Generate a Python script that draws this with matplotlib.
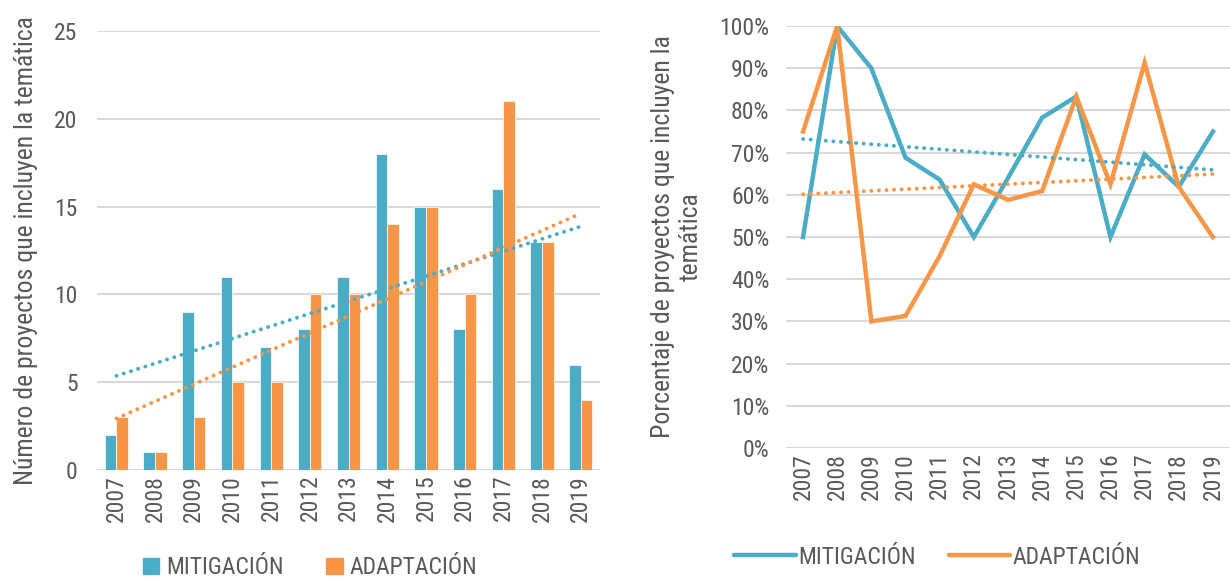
import numpy as np
import matplotlib
matplotlib.use("Agg")
import matplotlib.pyplot as plt
from matplotlib.lines import Line2D
from matplotlib.patches import Patch

plt.rcParams['font.family'] = ['Roboto Condensed', 'DejaVu Sans']

years = ["2007", "2008", "2009", "2010", "2011", "2012", "2013",
         "2014", "2015", "2016", "2017", "2018", "2019"]

# left: number of projects
mitig_n = [2, 1, 9, 11, 7, 8, 11, 18, 15, 8, 16, 13, 6]
adapt_n = [3, 1, 3, 5, 5, 10, 10, 14, 15, 10, 21, 13, 4]

# right: share of projects (%)
mitig_pct = [50, 100, 90, 68.8, 63.6, 50, 64, 78.3, 83.3, 50, 69.6, 61.9, 75]
adapt_pct = [75, 100, 30, 31.3, 45.5, 62.5, 58.8, 60.9, 83.3, 62.5, 91.3, 61.9, 50]

BLUE = "#4BACC6"
ORANGE = "#F79646"
TXT = "#595959"
GRID = "#D9D9D9"
FS = 17


def _style(ax):
    for s in ax.spines.values():
        s.set_visible(False)
    ax.tick_params(axis="both", length=0, colors=TXT, labelsize=FS)
    ax.yaxis.grid(True, color=GRID, linewidth=1.5)
    ax.set_axisbelow(True)
    for lab in ax.get_xticklabels():
        lab.set_rotation(90)


def _trend(ax, x, y, color):
    k, b = np.polyfit(x, y, 1)
    ax.plot(x, k * x + b, color=color, linewidth=2.8,
            linestyle=(0, (0.05, 1.9)), dash_capstyle="round", zorder=4)


fig = plt.figure(figsize=(12.3, 5.78), dpi=100)
x = np.arange(len(years))

# Left panel
ax1 = fig.add_axes([0.0789, 0.1869, 0.409, 0.7595])
w = 0.3
ax1.bar(x - w / 2, mitig_n, w, color=BLUE, edgecolor="white", linewidth=0.5, zorder=3)
ax1.bar(x + w / 2, adapt_n, w, color=ORANGE, edgecolor="white", linewidth=0.5, zorder=3)
_trend(ax1, x, np.array(mitig_n, float), BLUE)
_trend(ax1, x, np.array(adapt_n, float), ORANGE)
ax1.set_xlim(-0.5, len(years) - 0.5)
ax1.set_ylim(0, 25)
ax1.set_yticks([0, 5, 10, 15, 20, 25])
ax1.set_xticks(x)
ax1.set_xticklabels(years)
_style(ax1)
ax1.tick_params(axis="y", pad=14)
ax1.set_ylabel("Número de proyectos que incluyen la temática", color=TXT,
               fontsize=18.5, labelpad=12)
ax1.legend(handles=[Patch(color=BLUE, label="MITIGACIÓN"),
                    Patch(color=ORANGE, label="ADAPTACIÓN")],
           loc="center", bbox_to_anchor=(0.252, 0.018), bbox_transform=fig.transFigure,
           ncol=2, frameon=False, fontsize=FS, labelcolor=TXT,
           handlelength=0.7, handleheight=0.7, handletextpad=0.3, columnspacing=1.8)

# Right panel
ax2 = fig.add_axes([0.639, 0.2249, 0.361, 0.730])
ax2.plot(x, mitig_pct, color=BLUE, linewidth=3.2, solid_joinstyle="miter", zorder=3)
ax2.plot(x, adapt_pct, color=ORANGE, linewidth=3.2, solid_joinstyle="miter", zorder=3)
_trend(ax2, x, np.array(mitig_pct, float), BLUE)
_trend(ax2, x, np.array(adapt_pct, float), ORANGE)
ax2.set_xlim(-0.5, len(years) - 0.5)
ax2.set_ylim(0, 100)
ax2.set_yticks(range(0, 101, 10))
ax2.set_yticklabels([f"{v}%" for v in range(0, 101, 10)])
ax2.set_xticks(x)
ax2.set_xticklabels(years)
_style(ax2)
ax2.tick_params(axis="y", pad=12)
ax2.set_ylabel("Porcentaje de proyectos que incluyen la\ntemática", color=TXT,
               fontsize=18.5, labelpad=12)
ax2.legend(handles=[Line2D([], [], color=BLUE, linewidth=3.2, solid_capstyle="round",
                           label="MITIGACIÓN"),
                    Line2D([], [], color=ORANGE, linewidth=3.2, solid_capstyle="round",
                           label="ADAPTACIÓN")],
           loc="center", bbox_to_anchor=(0.762, 0.036), bbox_transform=fig.transFigure,
           ncol=2, frameon=False, fontsize=FS, labelcolor=TXT,
           handlelength=2.6, handletextpad=0.1, columnspacing=1.4)

fig.savefig("out.png", dpi=100)
